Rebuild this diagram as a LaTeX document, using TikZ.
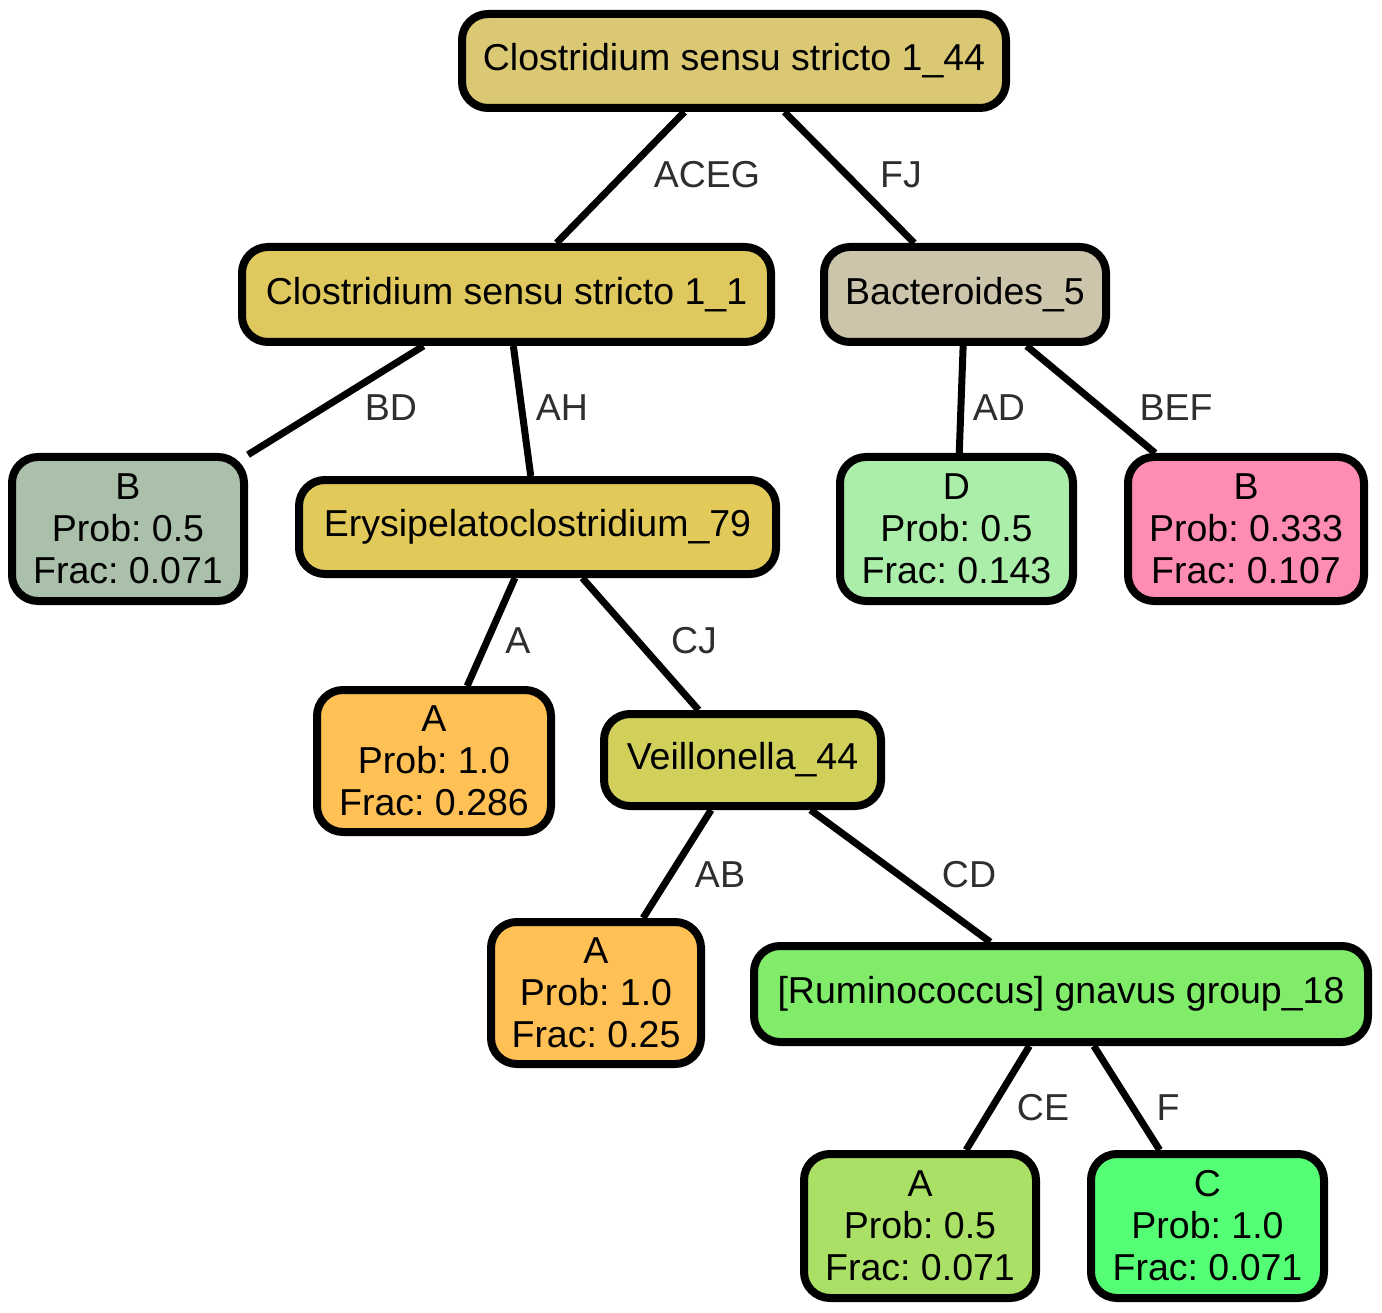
\documentclass[tikz,border=0pt]{standalone}
\usepackage{fontspec}
\setmainfont{Liberation Sans}
\frenchspacing
\definecolor{cRoot}{RGB}{218,200,116}
\definecolor{cCsa}{RGB}{223,201,95}
\definecolor{cBac}{RGB}{205,196,172}
\definecolor{cBgrey}{RGB}{170,192,170}
\definecolor{cEry}{RGB}{226,202,90}
\definecolor{cDgreen}{RGB}{170,238,170}
\definecolor{cPink}{RGB}{255,141,177}
\definecolor{cOrange}{RGB}{255,192,85}
\definecolor{cVei}{RGB}{208,208,90}
\definecolor{cRum}{RGB}{128,236,106}
\definecolor{cAlime}{RGB}{170,224,102}
\definecolor{cCgreen}{RGB}{85,255,117}
\begin{document}
\begin{tikzpicture}[x=1pt,y=-1pt,
  tnode/.style={draw=black, line width=8pt, rounded corners=26pt, inner sep=0pt,
    align=center, font=\fontsize{37.5}{42}\selectfont, text=black},
  edge/.style={draw=black, line width=7pt},
  elabel/.style={text=black!82, font=\fontsize{37.5}{42}\selectfont, inner sep=0pt}]
\useasboundingbox (0,0) rectangle (1382,1313);

% inner nodes
\node[tnode, fill=cRoot, minimum width=544pt, minimum height=94pt] (root) at (734,61) {Clostridium sensu stricto 1\_44};
\node[tnode, fill=cCsa, minimum width=529pt, minimum height=95pt] (csa) at (506.5,294.5) {Clostridium sensu stricto 1\_1};
\node[tnode, fill=cBac, minimum width=282pt, minimum height=95pt] (bac) at (965,294.5) {Bacteroides\_5};
\node[tnode, fill=cEry, minimum width=477pt, minimum height=94pt] (ery) at (537.5,527) {Erysipelatoclostridium\_79};
\node[tnode, fill=cVei, minimum width=277pt, minimum height=92pt] (vei) at (742.5,760) {Veillonella\_44};
\node[tnode, fill=cRum, minimum width=614pt, minimum height=96pt] (rum) at (1061,994) {[Ruminococcus] gnavus group\_18};

% leaves
\node[tnode, fill=cBgrey, minimum width=232pt, minimum height=144pt] (lb) at (128,529) {B\\Prob: 0.5\\Frac: 0.071};
\node[tnode, fill=cDgreen, minimum width=233pt, minimum height=144pt] (ld) at (956.5,529) {D\\Prob: 0.5\\Frac: 0.143};
\node[tnode, fill=cPink, minimum width=236pt, minimum height=144pt] (lp) at (1246,529) {B\\Prob: 0.333\\Frac: 0.107};
\node[tnode, fill=cOrange, minimum width=234pt, minimum height=142pt] (la1) at (434,761) {A\\Prob: 1.0\\Frac: 0.286};
\node[tnode, fill=cOrange, minimum width=210pt, minimum height=142pt] (la2) at (596,993) {A\\Prob: 1.0\\Frac: 0.25};
\node[tnode, fill=cAlime, minimum width=232pt, minimum height=144pt] (la3) at (920,1226) {A\\Prob: 0.5\\Frac: 0.071};
\node[tnode, fill=cCgreen, minimum width=233pt, minimum height=144pt] (lc) at (1207.5,1226) {C\\Prob: 1.0\\Frac: 0.071};

% connectors
\draw[edge] (root) -- (csa);
\draw[edge] (root) -- (bac);
\draw[edge] (csa) -- (lb);
\draw[edge] (csa) -- (ery);
\draw[edge] (bac) -- (ld);
\draw[edge] (bac) -- (lp);
\draw[edge] (ery) -- (la1);
\draw[edge] (ery) -- (vei);
\draw[edge] (vei) -- (la2);
\draw[edge] (vei) -- (rum);
\draw[edge] (rum) -- (la3);
\draw[edge] (rum) -- (lc);

% connector labels
\node[elabel] (t1) at (707,175) {ACEG};
\node[elabel] (t2) at (901,175) {FJ};
\node[elabel] (t3) at (391,408) {BD};
\node[elabel] (t4) at (562,408) {AH};
\node[elabel] (t5) at (999,408) {AD};
\node[elabel] (t6) at (1176,408) {BEF};
\node[elabel] (t7) at (518,641) {A};
\node[elabel] (t8) at (694,641) {CJ};
\node[elabel] (t9) at (720,875) {AB};
\node[elabel] (t10) at (969,875) {CD};
\node[elabel] (t11) at (1043,1108) {CE};
\node[elabel] (t12) at (1168,1108) {F};
\end{tikzpicture}
\end{document}
